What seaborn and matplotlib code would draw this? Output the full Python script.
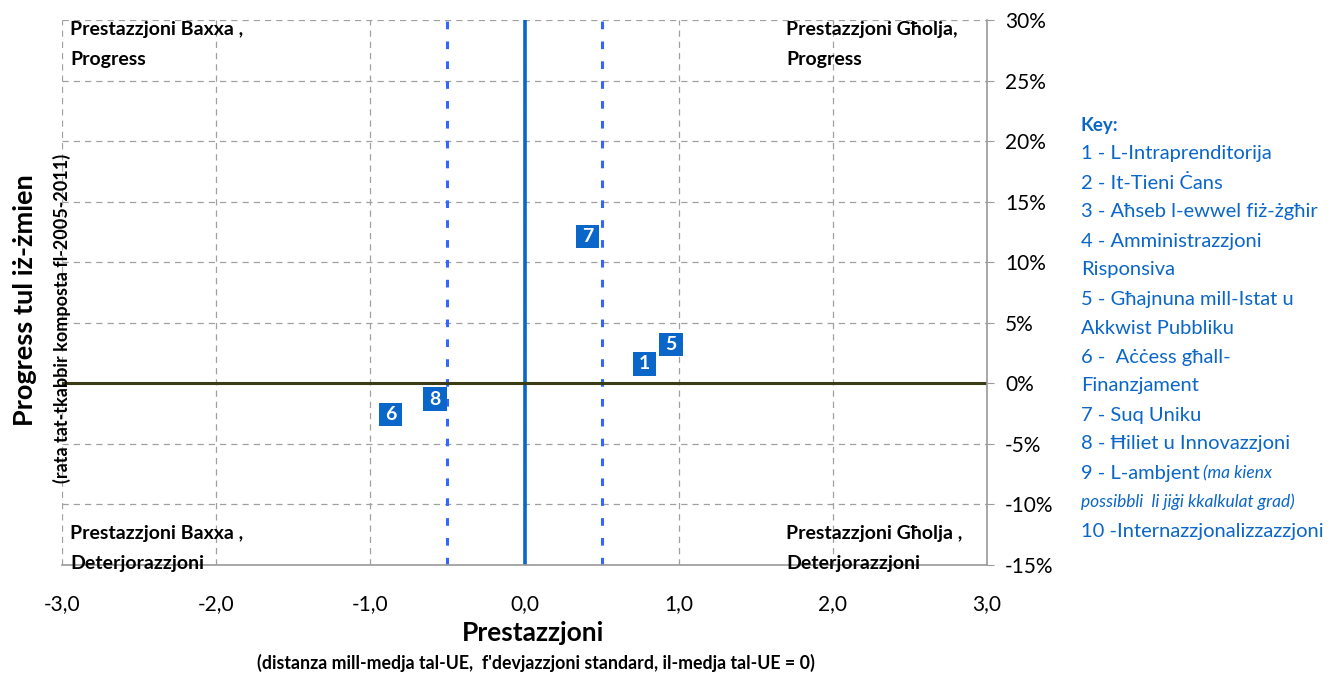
import matplotlib
matplotlib.use("Agg")
import matplotlib.pyplot as plt
import seaborn as sns
import pandas as pd
from matplotlib.ticker import FuncFormatter, MultipleLocator

# data
labels = ["1", "5", "6", "7", "8"]
performance = [0.78, 0.95, -0.87, 0.41, -0.58]
progress = [0.016, 0.032, -0.026, 0.121, -0.013]

key_lines = [
    "1 - L-Intraprenditorija",
    "2 - It-Tieni Ċans",
    "3 - Aħseb l-ewwel fiż-żgħir",
    "4 - Amministrazzjoni",
    "Risponsiva",
    "5 - Għajnuna mill-Istat u",
    "Akkwist Pubbliku",
    "6 -  Aċċess għall-",
    "Finanzjament",
    "7 - Suq Uniku",
    "8 - Ħiliet u Innovazzjoni",
]

df = pd.DataFrame({"lab": labels, "perf": performance, "prog": progress})

sns.set_style("white")
plt.rcParams["font.family"] = ["Lato", "DejaVu Sans"]
plt.rcParams["text.color"] = "black"
plt.rcParams["xtick.labelcolor"] = "black"
plt.rcParams["ytick.labelcolor"] = "black"

blue = "#0a66c8"
W, H = 1341, 673
fig = plt.figure(figsize=(13.41, 6.73), dpi=100)
ax = fig.add_axes([62 / W, 108 / H, 925 / W, 545 / H])

ax.set_xlim(-3, 3)
ax.set_ylim(-0.15, 0.30)

ax.xaxis.set_major_locator(MultipleLocator(1))
ax.xaxis.set_minor_locator(MultipleLocator(0.5))
ax.yaxis.set_major_locator(MultipleLocator(0.05))
ax.grid(True, which="major", linestyle=(0, (5, 4)), color="#a0a0a0", linewidth=0.9)

ax.axvline(-0.5, color="#3366ff", linestyle=(0, (2.5, 4)), linewidth=2.2, zorder=2)
ax.axvline(0.5, color="#3366ff", linestyle=(0, (2.5, 4)), linewidth=2.2, zorder=2)
ax.axvline(0, color=blue, linewidth=2.6, zorder=2)
ax.axhline(0, color="#3b3b16", linewidth=2.2, zorder=2)

sns.scatterplot(data=df, x="perf", y="prog", marker="s", s=280, color=blue,
                edgecolor="none", ax=ax, zorder=4, legend=False)
for _, r in df.iterrows():
    ax.text(r["perf"], r["prog"], r["lab"], color="white", fontweight="bold",
            fontsize=14, ha="center", va="center", zorder=5)

for s in ["top", "left"]:
    ax.spines[s].set_visible(False)
for s in ["bottom", "right"]:
    ax.spines[s].set_color("#9a9a9a")
    ax.spines[s].set_linewidth(1.2)

ax.yaxis.tick_right()
ax.xaxis.set_major_formatter(FuncFormatter(lambda v, p: f"{v:.1f}".replace(".", ",")))
ax.yaxis.set_major_formatter(FuncFormatter(lambda v, p: f"{v * 100:.0f}%"))
ax.tick_params(axis="x", which="both", direction="inout", length=8, color="#9a9a9a",
               labelsize=15, pad=17, labelcolor="black")
ax.tick_params(axis="y", direction="out", length=5, color="#9a9a9a", labelsize=15,
               pad=8, labelcolor="black")
ax.set_xlabel("")
ax.set_ylabel("")

# quadrant labels, one line at a time (pixel rows from the reference)
def ypos(py):
    return (565 - py) / 545

qkw = dict(fontsize=14, fontweight="bold", color="black", va="center", ha="left",
           transform=ax.transAxes)
xl, xr = 0.009, 0.783
ax.text(xl, ypos(30), "Prestazzjoni Baxxa ,", **qkw)
ax.text(xl, ypos(60), "Progress", **qkw)
ax.text(xr, ypos(30), "Prestazzjoni Għolja,", **qkw)
ax.text(xr, ypos(60), "Progress", **qkw)
ax.text(xl, ypos(533), "Prestazzjoni Baxxa ,", **qkw)
ax.text(xl, ypos(564), "Deterjorazzjoni", **qkw)
ax.text(xr, ypos(533), "Prestazzjoni Għolja ,", **qkw)
ax.text(xr, ypos(564), "Deterjorazzjoni", **qkw)

# axis titles
fig.text(533 / W, 1 - 633 / H, "Prestazzjoni", fontsize=19, fontweight="bold",
         ha="center", va="center")
fig.text(536 / W, 1 - 663 / H,
         "(distanza mill-medja tal-UE,  f'devjazzjoni standard, il-medja tal-UE = 0)",
         fontsize=12.8, fontweight="bold", ha="center", va="center")
fig.text(25 / W, 1 - 300 / H, "Progress tul iż-żmien", fontsize=19.5, fontweight="bold",
         rotation=90, ha="center", va="center")
fig.text(62 / W, 1 - 318 / H, "(rata tat-tkabbir komposta fl-2005-2011)", fontsize=13,
         fontweight="bold", rotation=90, ha="center", va="center")

# key
kx = 1081 / W
ky = 1 - 125 / H
step = 29 / H
fig.text(kx, ky, "Key:", color=blue, fontsize=13.5, fontweight="bold", va="center")
for i, line in enumerate(key_lines):
    fig.text(kx, ky - step * (i + 1), line, color=blue, fontsize=14.5, va="center")
n = len(key_lines) + 1
fig.text(kx, ky - step * n, "9 - L-ambjent ", color=blue, fontsize=14.5, va="center")
fig.text(1203 / W, ky - step * n, "(ma kienx", color=blue, fontsize=12.5, style="italic",
         va="center")
fig.text(kx, ky - step * (n + 1), "possibbli  li jiġi kkalkulat grad)", color=blue,
         fontsize=12.5, style="italic", va="center")
fig.text(kx, ky - step * (n + 2), "10 -Internazzjonalizzazzjoni", color=blue,
         fontsize=14.5, va="center")

fig.savefig("out.png", dpi=100)
